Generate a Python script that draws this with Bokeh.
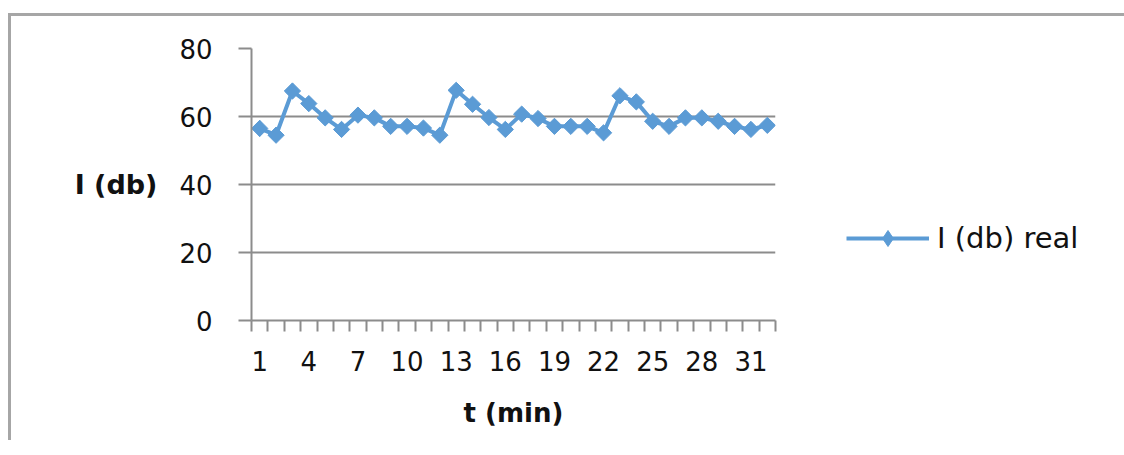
import math
from bokeh.plotting import figure
from bokeh.models import FixedTicker, Legend, LegendItem, Range1d
from bokeh.embed import file_html
from bokeh.resources import INLINE

t_min = list(range(1, 33))
i_db_real = [56.5, 54.5, 67.5, 63.8, 59.6, 56.2, 60.4, 59.6, 57.1, 57.1, 56.6, 54.5,
             67.7, 63.6, 59.7, 56.2, 60.7, 59.4, 57.1, 57.1, 57.1, 55.2, 66.1, 64.3,
             58.6, 57.1, 59.6, 59.6, 58.6, 57.1, 56.2, 57.4]
x_tick_labels = [1, 4, 7, 10, 13, 16, 19, 22, 25, 28, 31]
y_ticks = [0, 20, 40, 60, 80]

BLUE = "#5B9BD5"
GRAY = "#8c8c8c"
FONT = "DejaVu Sans"

p = figure(
    output_backend="svg", toolbar_location=None,
    frame_width=524, frame_height=272,
    min_border_left=240, min_border_top=32, min_border_right=336, min_border_bottom=120,
    x_range=Range1d(0.5, 32.5), y_range=Range1d(0, 80),
    styles={"border-left": "3px solid #a6a6a6", "border-top": "3px solid #a6a6a6",
            "margin-left": "6px", "margin-top": "6px",
            "position": "relative", "top": "7px", "left": "2px"},
)
p.outline_line_color = None
p.background_fill_color = "white"
p.border_fill_color = "white"

# x axis
xa = p.xaxis[0]
xa.ticker = FixedTicker(ticks=x_tick_labels, minor_ticks=[k + 0.5 for k in range(0, 33)])
xa.major_tick_out = 0
xa.major_tick_in = 0
xa.minor_tick_out = 11
xa.minor_tick_in = 0
xa.minor_tick_line_color = GRAY
xa.minor_tick_line_width = 2
xa.axis_line_color = GRAY
xa.axis_line_width = 2
xa.major_label_text_font = FONT
xa.major_label_text_font_size = "26px"
xa.major_label_text_color = "#111111"
xa.major_label_standoff = 19
xa.axis_label = "t (min)"
xa.axis_label_text_font = FONT
xa.axis_label_text_font_style = "bold"
xa.axis_label_text_font_size = "26px"
xa.axis_label_text_color = "#111111"
xa.axis_label_standoff = 24

# y axis
ya = p.yaxis[0]
ya.ticker = FixedTicker(ticks=y_ticks)
ya.minor_tick_line_color = None
ya.major_tick_out = 13
ya.major_tick_in = 0
ya.major_tick_line_color = GRAY
ya.major_tick_line_width = 2
ya.axis_line_color = GRAY
ya.axis_line_width = 2
ya.major_label_text_font = FONT
ya.major_label_text_font_size = "26px"
ya.major_label_text_color = "#111111"
ya.major_label_standoff = 26
ya.axis_label = "I (db)"
ya.axis_label_orientation = "horizontal"
ya.axis_label_text_font = FONT
ya.axis_label_text_font_style = "bold"
ya.axis_label_text_font_size = "27px"
ya.axis_label_text_color = "#111111"
ya.axis_label_standoff = 19

p.xgrid.grid_line_color = None
p.ygrid.ticker = FixedTicker(ticks=y_ticks)
p.ygrid.grid_line_color = GRAY
p.ygrid.grid_line_width = 2

ln = p.line(t_min, i_db_real, line_color=BLUE, line_width=4)
# diamond used for the legend swatch; hidden under the first data marker
mk_leg = p.scatter(t_min[:1], i_db_real[:1], marker="diamond", size=16,
                   fill_color=BLUE, line_color=BLUE)
mk = p.scatter(t_min, i_db_real, marker="square", angle=math.pi / 4, size=11.5,
               fill_color=BLUE, line_color=BLUE)

legend = Legend(
    items=[LegendItem(label="I (db) real", renderers=[ln, mk_leg])],
    location=(71, 62),
    glyph_width=83, glyph_height=40, label_height=40,
    padding=0, margin=0, spacing=0,
    label_standoff=8,
    label_text_font=FONT, label_text_font_size="29px", label_text_color="#111111",
    border_line_alpha=0, background_fill_alpha=0,
)
p.add_layout(legend, "right")

open("out.html", "w").write(file_html(p, INLINE))
